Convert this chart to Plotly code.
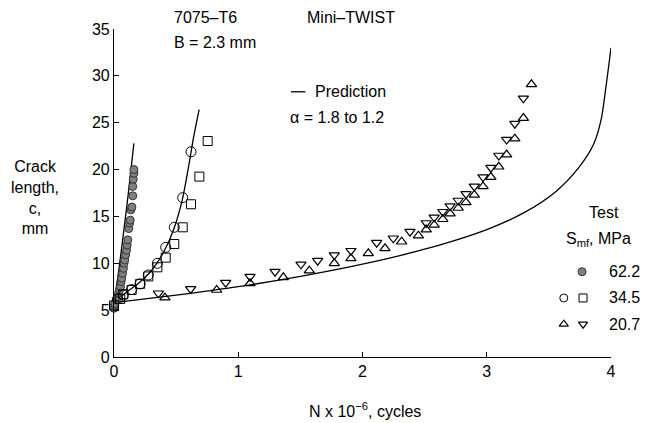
import plotly.graph_objects as go

# ---- data ----
n_622 = [0.0, 0.003, 0.007, 0.019, 0.032, 0.037, 0.044, 0.052, 0.057, 0.062, 0.069, 0.076, 0.081, 0.086, 0.094, 0.101, 0.106, 0.111, 0.119, 0.126, 0.131, 0.136, 0.144, 0.151, 0.151, 0.155, 0.160, 0.160]
c_622 = [5.2, 5.5, 5.7, 6.1, 6.4, 6.8, 7.15, 7.5, 8.04, 8.4, 8.93, 9.46, 10.0, 10.35, 10.9, 11.4, 11.95, 12.5, 13.7, 14.3, 14.6, 15.7, 16.0, 17.2, 18.2, 18.96, 19.6, 20.0]

n_345_circ = [0.03, 0.075, 0.142, 0.21, 0.276, 0.349, 0.416, 0.485, 0.553, 0.62]
c_345_circ = [6.2, 6.6, 7.2, 7.8, 8.75, 10.0, 11.7, 13.84, 17.0, 21.9]
n_345_sq = [0.0, 0.05, 0.075, 0.142, 0.21, 0.276, 0.349, 0.416, 0.485, 0.553, 0.62, 0.687, 0.754]
c_345_sq = [5.5, 6.2, 6.7, 7.15, 7.8, 8.6, 9.57, 10.6, 12.06, 13.84, 16.3, 19.25, 23.05]

n_207_down = [0.357, 0.617, 0.899, 1.095, 1.296, 1.505, 1.639, 1.773, 1.907, 2.114, 2.248, 2.382,
              2.513, 2.577, 2.646, 2.705, 2.77, 2.833, 2.90, 2.97, 3.033, 3.097, 3.16, 3.226, 3.295]
c_207_down = [6.8, 7.26, 7.93, 8.57, 9.1, 9.89, 10.28, 10.88, 11.34, 12.2, 12.67, 13.37,
              14.3, 14.9, 15.5, 16.1, 16.7, 17.4, 18.2, 19.2, 20.2, 21.5, 23.2, 24.9, 27.6]
n_207_up = [0.41, 0.826, 1.095, 1.363, 1.572, 1.773, 1.907, 2.047, 2.181, 2.315, 2.45,
            2.513, 2.577, 2.646, 2.705, 2.77, 2.833, 2.90, 2.97, 3.033, 3.097, 3.16, 3.226, 3.295, 3.36]
c_207_up = [6.33, 7.15, 7.86, 8.5, 9.21, 10.0, 10.53, 11.06, 11.6, 12.3, 12.95,
            13.6, 14.1, 14.7, 15.3, 15.9, 16.5, 17.3, 18.2, 19.2, 20.3, 21.6, 23.3, 25.5, 29.1]

pred1_n = [0.0, 0.04, 0.08, 0.12, 0.16]
pred1_c = [5.6, 9.4, 13.6, 18.0, 22.8]
pred2_n = [0.0, 0.1, 0.2, 0.3, 0.4, 0.48, 0.55, 0.6, 0.64, 0.685]
pred2_c = [5.8, 6.9, 7.9, 9.2, 11.2, 13.6, 16.8, 20.3, 23.4, 26.4]
pred3_n = [0.0, 0.5, 1.0, 1.5, 2.0, 2.5, 3.0, 3.3, 3.56, 3.74, 3.86, 3.92, 3.96, 4.0]
pred3_c = [5.8, 6.6, 7.5, 8.6, 9.9, 11.5, 13.6, 15.4, 17.7, 20.2, 22.7, 25.3, 28.9, 33.0]

x_ticks = [0, 1, 2, 3, 4]
y_ticks = [0, 5, 10, 15, 20, 25, 30, 35]
legend_labels = ["62.2", "34.5", "20.7"]

FONT = "Liberation Sans"
fig = go.Figure()

for xs, ys in [(pred1_n, pred1_c), (pred2_n, pred2_c), (pred3_n, pred3_c)]:
    fig.add_trace(go.Scatter(x=xs, y=ys, mode="lines", line=dict(color="black", width=1.3, shape="spline", smoothing=0.8),
                             showlegend=False, hoverinfo="skip"))

fig.add_trace(go.Scatter(x=n_622, y=c_622, mode="markers",
                         marker=dict(symbol="circle", size=8, color="#808080", line=dict(color="#333", width=1)),
                         showlegend=False, cliponaxis=False))
fig.add_trace(go.Scatter(x=n_345_circ, y=c_345_circ, mode="markers",
                         marker=dict(symbol="circle-open", size=10, color="black", line=dict(width=1)),
                         showlegend=False, cliponaxis=False))
fig.add_trace(go.Scatter(x=n_345_sq, y=c_345_sq, mode="markers",
                         marker=dict(symbol="square-open", size=9, color="black", line=dict(width=1)),
                         showlegend=False, cliponaxis=False))
fig.add_trace(go.Scatter(x=n_207_down, y=c_207_down, mode="markers",
                         marker=dict(symbol="triangle-down-open", size=9, color="black", line=dict(width=1.2)),
                         showlegend=False, cliponaxis=False))
fig.add_trace(go.Scatter(x=n_207_up, y=c_207_up, mode="markers",
                         marker=dict(symbol="triangle-up-open", size=9, color="black", line=dict(width=1.2)),
                         showlegend=False, cliponaxis=False))

# legend key symbols (placed in the right-hand key)
key_rows = [9.1, 6.3, 3.5]
fig.add_trace(go.Scatter(x=[3.767], y=[key_rows[0]], mode="markers",
                         marker=dict(symbol="circle", size=8, color="#808080", line=dict(color="#333", width=1)),
                         showlegend=False, cliponaxis=False))
fig.add_trace(go.Scatter(x=[3.62], y=[key_rows[1]], mode="markers",
                         marker=dict(symbol="circle-open", size=8, color="black", line=dict(width=1)),
                         showlegend=False, cliponaxis=False))
fig.add_trace(go.Scatter(x=[3.775], y=[key_rows[1]], mode="markers",
                         marker=dict(symbol="square-open", size=8, color="black", line=dict(width=1)),
                         showlegend=False, cliponaxis=False))
fig.add_trace(go.Scatter(x=[3.62], y=[key_rows[2]], mode="markers",
                         marker=dict(symbol="triangle-up-open", size=8, color="black", line=dict(width=1.2)),
                         showlegend=False, cliponaxis=False))
fig.add_trace(go.Scatter(x=[3.775], y=[key_rows[2]], mode="markers",
                         marker=dict(symbol="triangle-down-open", size=8, color="black", line=dict(width=1.2)),
                         showlegend=False, cliponaxis=False))

ann = []
def txt(x, y, s, xanchor="left", ref="paper", size=16, align="left"):
    ann.append(dict(x=x, y=y, xref=ref if ref == "paper" else "x", yref=ref if ref == "paper" else "y",
                    text=s, showarrow=False, xanchor=xanchor, yanchor="middle", align=align,
                    font=dict(family=FONT, size=size, color="black")))

txt(0.117, 1.034, "7075–T6")
txt(0.117, 0.960, "B = 2.3 mm")
txt(0.384, 1.034, "Mini–TWIST")
txt(1.60, 28.3, "Prediction", ref="data")
txt(1.40, 25.6, "α = 1.8 to 1.2", ref="data")
txt(3.94, 15.4, "Test", xanchor="center", ref="data")
txt(3.90, 12.5, "S<sub>mf</sub>, MPa", xanchor="center", ref="data")
for yv, lab in zip(key_rows, legend_labels):
    txt(3.965, yv, lab, ref="data")

txt(-0.159, 0.485, "Crack<br>length,<br>c,<br>mm", xanchor="center", align="center")
txt(0.505, -0.162, "N x 10<sup>−6</sup>, cycles", xanchor="center")

fig.add_shape(type="line", x0=1.425, x1=1.54, y0=28.3, y1=28.3, xref="x", yref="y",
              line=dict(color="black", width=1.3))

fig.update_layout(
    width=649, height=423, margin=dict(l=114, r=38, t=29, b=66),
    paper_bgcolor="white", plot_bgcolor="white",
    annotations=ann,
    font=dict(family=FONT, size=16, color="black"),
    xaxis=dict(range=[0, 4], tickvals=x_ticks, ticktext=[str(v) for v in x_ticks], ticks="inside", ticklen=5,
               tickcolor="black", showline=True, linecolor="black", linewidth=1.2, showgrid=False, zeroline=False,
               tickfont=dict(family=FONT, size=16)),
    yaxis=dict(range=[0, 35], tickvals=y_ticks, ticktext=[str(v) for v in y_ticks], ticks="inside", ticklen=5,
               tickcolor="black", showline=True, linecolor="black", linewidth=1.2, showgrid=False, zeroline=False,
               tickfont=dict(family=FONT, size=16)),
)

fig.write_html("out.html")
